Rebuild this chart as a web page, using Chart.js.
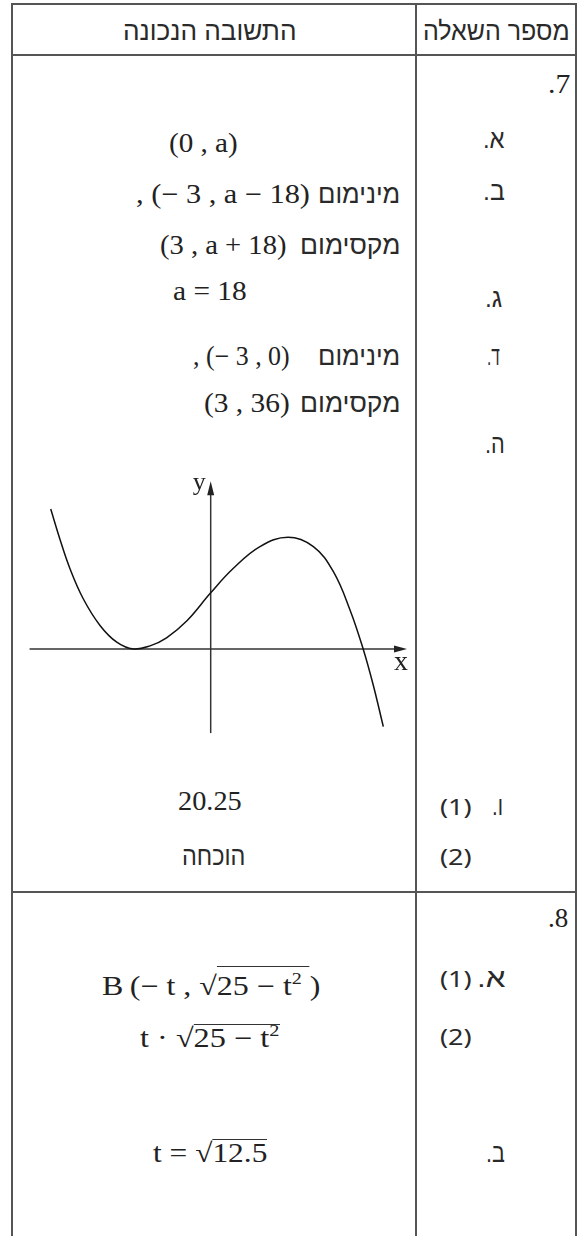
<!DOCTYPE html>
<html lang="he">
<head>
<meta charset="utf-8">
<script src="https://cdn.jsdelivr.net/npm/chart.js@4.4.1/dist/chart.umd.min.js"></script>
<style>
  html, body { margin: 0; padding: 0; background: #fff; }
  body { width: 582px; height: 1236px; position: relative; overflow: hidden; color: #222; }
  .ln { position: absolute; background: #555; }
  .t { position: absolute; white-space: nowrap; transform-origin: 0 0; }
  .M { font-family: "Liberation Serif", "Times New Roman", serif; font-size: 27px; line-height: 27px; }
  .H { font-family: "Liberation Sans", Arial, sans-serif; font-size: 26px; line-height: 26px; color: #2a2a2a; }
  .P { font-family: "Noto Sans", "Liberation Sans", sans-serif; font-size: 22px; line-height: 22px; color: #2a2a2a; }
  .rad { display: inline-block; border-top: 1.3px solid #333; line-height: 27px; padding-top: 0; }
  .rad sup { font-size: 17px; line-height: 0; position: relative; top: -1px; }
  #graph { position: absolute; left: 20px; top: 470px; }
</style>
</head>
<body>
<canvas id="graph" width="395" height="275"></canvas>
<script>
// curve of question 7 (e): points
const curveX = [-6.20, -5.84, -5.45, -4.94, -4.29, -3.64, -3.00, -2.35, -1.71, -0.93, 0.00,
                0.88, 1.91, 3.00, 3.98, 4.75, 5.40, 5.91, 6.30, 6.69];
const curveY = [45.1, 35.3, 25.8, 16.2, 7.6, 2.2, 0.0, 1.0, 3.6, 9.0, 18.1,
                26.0, 33.0, 36.0, 33.0, 25.0, 12.6, 0.0, -11.6, -25.0];
// axis extents
const xAxisRange = [-7.02, 7.61];
const yAxisRange = [-27.1, 54.1];
const axisLabels = ['x', 'y'];

// table text: [content, font class, left, right, baseline, rtl]
const cells = [
  ['התשובה הנכונה', 'H', 123, 297, 40, true],
  ['מספר השאלה', 'H', 423, 570, 40, true],
  ['7.', 'M', 548, 570, 93, true],
  ['א.', 'H', 483, 505, 148, true],
  ['(0 , a)', 'M', 169, 238, 152],
  ['ב.', 'H', 483, 505, 200, true],
  [', (− 3 , a − 18)', 'M', 136, 310, 203],
  ['מינימום', 'H', 318, 400, 203, true],
  ['(3 , a + 18)', 'M', 160, 286, 254],
  ['מקסימום', 'H', 300, 400, 254, true],
  ['a = 18', 'M', 173, 247, 300],
  ['ג.', 'H', 485, 502, 307, true],
  [', (− 3 , 0)', 'M', 193, 290, 365],
  ['מינימום', 'H', 318, 400, 365, true],
  ['ד.', 'H', 487, 500, 365, true],
  ['(3 , 36)', 'M', 204, 290, 412],
  ['מקסימום', 'H', 300, 400, 412, true],
  ['ה.', 'H', 485, 505, 453, true],
  ['20.25', 'M', 178, 242, 810],
  ['(1)', 'P', 440, 472, 815],
  ['ו.', 'H', 492, 503, 815, true],
  ['הוכחה', 'H', 182, 245, 865, true],
  ['(2)', 'P', 440, 472, 865],
  ['8.', 'M', 548, 568, 927, true],
  ['B&thinsp;(− t , √<span class="rad" style="padding-top:6px">25 − t<sup>2</sup>&nbsp;</span>)', 'M', 102, 320, 995],
  ['(1)', 'P', 440, 472, 987],
  ['א.', 'H', 477, 506, 987, true],
  ['t · √<span class="rad">25 − t<sup>2</sup></span>', 'M', 140, 280, 1047],
  ['(2)', 'P', 440, 472, 1045],
  ['t = √<span class="rad">12.5</span>', 'M', 153, 267, 1162],
  ['ב.', 'H', 486, 505, 1162, true]
];

// table rules: [x, y, w, h]
const rules = [
  [12, 3, 565, 2], [12, 54, 565, 2], [12, 891, 565, 2],
  [11, 3, 2, 1233], [415, 3, 2, 1233], [575, 3, 2, 1233]
];

rules.forEach(r => {
  const d = document.createElement('div');
  d.className = 'ln';
  d.style.cssText = `left:${r[0]}px;top:${r[1]}px;width:${r[2]}px;height:${r[3]}px`;
  document.body.appendChild(d);
});

cells.forEach(c => {
  const [html, cls, x0, x1, base, rtl] = c;
  const d = document.createElement('div');
  d.className = 't ' + cls;
  if (rtl) d.dir = 'rtl';
  d.innerHTML = html + '<span style="display:inline-block;width:0;height:0"></span>';
  document.body.appendChild(d);
  const mark = d.lastChild;
  const w = d.offsetWidth;
  const b = mark.offsetTop;
  d.style.left = x0 + 'px';
  d.style.top = (base - b) + 'px';
  d.style.transform = `scaleX(${((x1 - x0) / w).toFixed(4)})`;
});

// arrowheads and axis letters
const axisDecor = {
  id: 'axisDecor',
  afterDatasetsDraw(chart) {
    const { ctx, scales: { x, y } } = chart;
    const ox = x.getPixelForValue(0), oy = y.getPixelForValue(0);
    const xe = x.getPixelForValue(xAxisRange[1]), ye = y.getPixelForValue(yAxisRange[1]);
    ctx.save();
    ctx.fillStyle = '#222';
    ctx.beginPath();
    ctx.moveTo(xe, oy); ctx.lineTo(xe - 13, oy - 3.5); ctx.lineTo(xe - 13, oy + 3.5);
    ctx.closePath(); ctx.fill();
    ctx.beginPath();
    ctx.moveTo(ox, ye); ctx.lineTo(ox - 3.5, ye + 14); ctx.lineTo(ox + 3.5, ye + 14);
    ctx.closePath(); ctx.fill();
    ctx.textBaseline = 'alphabetic';
    ctx.textAlign = 'left';
    ctx.font = '28px "Liberation Serif", serif';
    ctx.fillText(axisLabels[0], xe - 13, oy + 21);
    ctx.font = '26px "Liberation Serif", serif';
    ctx.fillText(axisLabels[1], ox - 18, ye + 9);
    ctx.restore();
  }
};

new Chart(document.getElementById('graph'), {
  type: 'scatter',
  data: {
    datasets: [
      {
        data: curveX.map((v, i) => ({ x: v, y: curveY[i] })),
        showLine: true,
        borderColor: '#111',
        borderWidth: 1.5,
        pointRadius: 0,
        tension: 0.4
      },
      {
        data: [{ x: xAxisRange[0], y: 0 }, { x: xAxisRange[1] - 0.4, y: 0 }],
        showLine: true, borderColor: '#333', borderWidth: 1.5, pointRadius: 0
      },
      {
        data: [{ x: 0, y: yAxisRange[0] }, { x: 0, y: yAxisRange[1] - 3 }],
        showLine: true, borderColor: '#333', borderWidth: 1.5, pointRadius: 0
      }
    ]
  },
  options: {
    responsive: false,
    animation: false,
    events: [],
    layout: { padding: 0 },
    plugins: { legend: { display: false }, tooltip: { enabled: false } },
    scales: {
      x: { type: 'linear', display: false, min: -7.391, max: 7.919 },
      y: { type: 'linear', display: false, min: -30.94, max: 57.69 }
    }
  },
  plugins: [axisDecor]
});
</script>
</body>
</html>
